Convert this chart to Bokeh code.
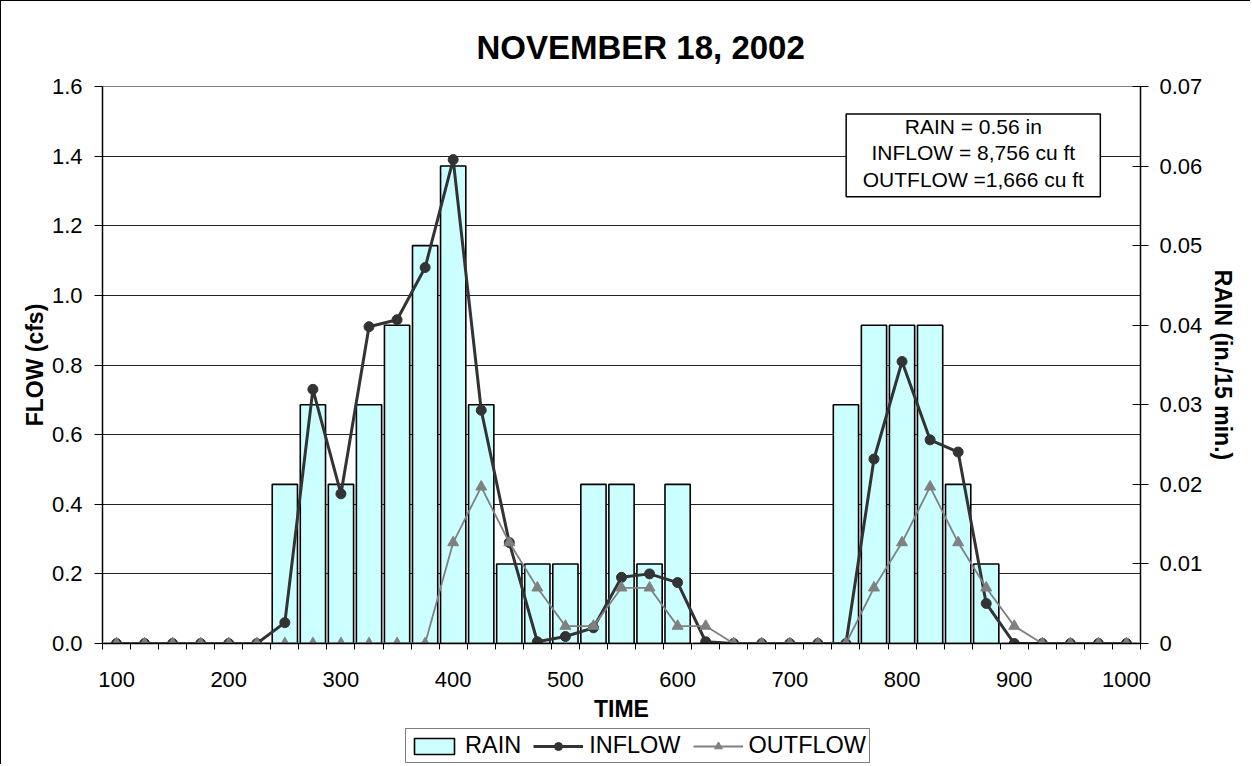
from bokeh.plotting import figure
from bokeh.layouts import column
from bokeh.models import (Range1d, LinearAxis, FixedTicker, NumeralTickFormatter,
                          Legend, LegendItem, BoxAnnotation, Label)
from bokeh.embed import file_html
from bokeh.resources import INLINE

# ---------------- data ----------------
times = [100, 125, 150, 175, 200, 225, 250, 275, 300, 325, 350, 375, 400,
         425, 450, 475, 500, 525, 550, 575, 600, 625, 650, 675, 700, 725,
         750, 775, 800, 825, 850, 875, 900, 925, 950, 975, 1000]
rain = [0, 0, 0, 0, 0, 0, 0.02, 0.03, 0.02, 0.03, 0.04, 0.05, 0.06,
        0.03, 0.01, 0.01, 0.01, 0.02, 0.02, 0.01, 0.02, 0, 0, 0, 0, 0,
        0.03, 0.04, 0.04, 0.04, 0.02, 0.01, 0, 0, 0, 0, 0]
inflow = [0, 0, 0, 0, 0, 0, 0.06, 0.73, 0.43, 0.91, 0.93, 1.08, 1.39,
          0.67, 0.29, 0.005, 0.02, 0.045, 0.19, 0.20, 0.175, 0.005, 0, 0, 0, 0,
          0, 0.53, 0.81, 0.585, 0.55, 0.115, 0, 0, 0, 0, 0]
outflow = [0, 0, 0, 0, 0, 0, 0, 0, 0, 0, 0, 0, 0.29,
           0.45, 0.29, 0.16, 0.05, 0.05, 0.16, 0.16, 0.05, 0.05, 0, 0, 0, 0,
           0, 0.16, 0.29, 0.45, 0.29, 0.16, 0.05, 0, 0, 0, 0]
x_tick_labels = [100, 200, 300, 400, 500, 600, 700, 800, 900, 1000]
flow_ticks = [0, 0.2, 0.4, 0.6, 0.8, 1.0, 1.2, 1.4, 1.6]
rain_ticks = [0, 0.01, 0.02, 0.03, 0.04, 0.05, 0.06, 0.07]
title_text = "NOVEMBER 18, 2002"
note_lines = ["RAIN = 0.56 in", "INFLOW = 8,756 cu ft", "OUTFLOW =1,666 cu ft"]
series_names = ["RAIN", "INFLOW", "OUTFLOW"]

FONT = "Liberation Sans"
step = times[1] - times[0]

RAIN_STYLE = dict(fill_color="#CCFFFF", line_color="black", line_width=1.6)
IN_LINE = dict(line_color="#333333", line_width=3)
IN_PTS = dict(marker="circle", size=10, fill_color="#333333", line_color="#333333")
OUT_LINE = dict(line_color="#808080", line_width=1.8)
OUT_PTS = dict(marker="triangle", size=11, fill_color="#808080", line_color="#808080")

p = figure(width=1250, height=728, output_backend="svg", toolbar_location=None,
           x_range=Range1d(times[0] - step / 2, times[-1] + step / 2),
           y_range=Range1d(0, 1.6),
           min_border_left=101, min_border_right=111, min_border_top=85,
           min_border_bottom=86)
p.extra_y_ranges = {"rain": Range1d(0, 0.07)}
p.styles = {"border-left": "1.5px solid black", "border-top": "1.5px solid black"}

p.background_fill_color = "white"
p.border_fill_color = "white"
p.outline_line_color = "#808080"
p.outline_line_width = 1

# title
p.title.text = title_text
p.title.text_font = FONT
p.title.text_font_size = "33px"
p.title.text_font_style = "bold"
p.title.text_color = "black"
p.title.align = "left"
p.title.offset = 374
p.title.vertical_align = "middle"
p.title.standoff = 40

# x axis
xa = p.xaxis[0]
xa.ticker = FixedTicker(ticks=x_tick_labels,
                        minor_ticks=[t - step / 2 for t in times] + [times[-1] + step / 2])
xa.major_tick_out = 0
xa.major_tick_in = 0
xa.minor_tick_out = 6
xa.minor_tick_in = 0
xa.minor_tick_line_color = "black"
xa.axis_line_color = "black"
xa.axis_line_width = 1.5
xa.major_label_text_font = FONT
xa.major_label_text_font_size = "22px"
xa.major_label_text_color = "black"
xa.major_label_standoff = 22
xa.axis_label = "TIME"
xa.axis_label_text_font = FONT
xa.axis_label_text_font_size = "23px"
xa.axis_label_text_font_style = "bold"
xa.axis_label_text_color = "black"
xa.axis_label_standoff = 6

# left y axis
ya = p.yaxis[0]
ya.ticker = FixedTicker(ticks=flow_ticks)
ya.formatter = NumeralTickFormatter(format="0.0")
ya.minor_tick_line_color = None
ya.major_tick_out = 8
ya.major_tick_in = 0
ya.axis_line_color = "black"
ya.axis_line_width = 1.5
ya.major_label_text_font = FONT
ya.major_label_text_font_size = "22px"
ya.major_label_text_color = "black"
ya.major_label_standoff = 12
ya.axis_label = "FLOW (cfs)"
ya.axis_label_text_font = FONT
ya.axis_label_text_font_size = "23px"
ya.axis_label_text_font_style = "bold"
ya.axis_label_text_color = "black"
ya.axis_label_standoff = 1

# right y axis
ra = LinearAxis(y_range_name="rain", ticker=FixedTicker(ticks=rain_ticks),
                formatter=NumeralTickFormatter(format="0.[00]"))
ra.minor_tick_line_color = None
ra.major_tick_out = 8
ra.major_tick_in = 8
ra.axis_line_color = "black"
ra.axis_line_width = 1.5
ra.major_label_text_font = FONT
ra.major_label_text_font_size = "22px"
ra.major_label_text_color = "black"
ra.major_label_standoff = 11
ra.axis_label = "RAIN (in./15 min.)"
ra.axis_label_text_font = FONT
ra.axis_label_text_font_size = "23px"
ra.axis_label_text_font_style = "bold"
ra.axis_label_text_color = "black"
ra.axis_label_standoff = 5
p.add_layout(ra, "right")

# grids
p.xgrid.grid_line_color = None
p.ygrid.ticker = FixedTicker(ticks=flow_ticks)
p.ygrid.grid_line_color = "#222222"
p.ygrid.grid_line_width = 1

# bars
p.vbar(x=times, top=rain, width=step * 0.9, bottom=0, y_range_name="rain", **RAIN_STYLE)
# inflow
p.line(times, inflow, **IN_LINE)
p.scatter(times, inflow, **IN_PTS)
# outflow
p.line(times, outflow, **OUT_LINE)
p.scatter(times, outflow, **OUT_PTS)

# annotation box
box = BoxAnnotation(left=750.2, right=976.7, top=1.521, bottom=1.283,
                    fill_color="white", fill_alpha=1.0,
                    line_color="black", line_width=1.5, line_alpha=1.0)
p.add_layout(box)
for txt, yy in zip(note_lines, [1.486, 1.409, 1.332]):
    p.add_layout(Label(x=863.5, y=yy, text=txt, text_align="center",
                       text_baseline="middle", text_font=FONT,
                       text_font_size="21px", text_color="black"))

# ---------- legend strip (separate figure under the chart) ----------
q = figure(width=1250, height=36, output_backend="svg", toolbar_location=None,
           x_range=Range1d(0, 1), y_range=Range1d(0, 1),
           x_axis_type=None, y_axis_type=None, title=None,
           min_border_left=0, min_border_right=0, min_border_top=0,
           min_border_bottom=0)
q.styles = {"border-left": "1.5px solid black"}
q.outline_line_color = None
q.background_fill_color = "white"
q.border_fill_color = "white"
q.xgrid.grid_line_color = None
q.ygrid.grid_line_color = None

# legend proxies: first data points, far outside this strip's (0..1) ranges
lg_bar = q.vbar(x=times[:1], top=rain[:1], width=1, bottom=0, **RAIN_STYLE)
lg_in_l = q.line(x=times[:2], y=inflow[:2], **IN_LINE)
lg_in_p = q.scatter(x=times[:1], y=inflow[:1], **IN_PTS)
lg_out_l = q.line(x=times[:2], y=outflow[:2], **OUT_LINE)
lg_out_p = q.scatter(x=times[:1], y=outflow[:1], **OUT_PTS)

legend = Legend(items=[LegendItem(label=series_names[0], renderers=[lg_bar]),
                       LegendItem(label=series_names[1], renderers=[lg_in_l, lg_in_p]),
                       LegendItem(label=series_names[2], renderers=[lg_out_l, lg_out_p])],
                orientation="horizontal", location=(303, 1),
                label_text_font=FONT, label_text_font_size="23.5px",
                label_text_color="black",
                glyph_width=50, glyph_height=20, label_standoff=6,
                spacing=12, padding=3, margin=0,
                border_line_color="black", border_line_width=1.2,
                background_fill_color="white", background_fill_alpha=1.0)
q.add_layout(legend)

layout = column(p, q, spacing=0)
open("out.html", "w").write(file_html(layout, INLINE))
